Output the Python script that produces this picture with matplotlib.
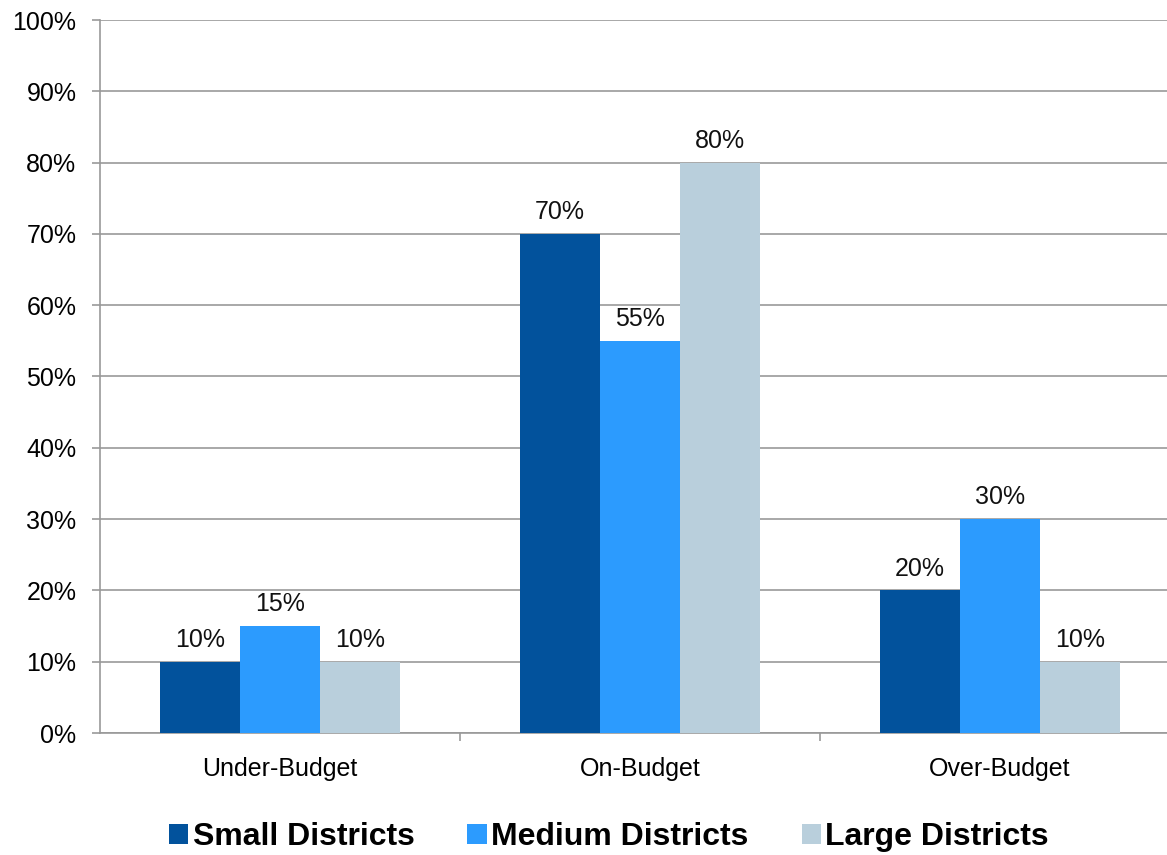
import matplotlib
matplotlib.use("Agg")
import matplotlib.pyplot as plt
import numpy as np

plt.rcParams['font.family'] = ['Liberation Sans', 'DejaVu Sans']

categories = ["Under-Budget", "On-Budget", "Over-Budget"]
series_names = ["Small Districts", "Medium Districts", "Large Districts"]
small = [10, 70, 20]
medium = [15, 55, 30]
large = [10, 80, 10]
colors = ["#02529C", "#2C9BFE", "#B9CFDC"]
y_ticks = [0, 10, 20, 30, 40, 50, 60, 70, 80, 90, 100]

W, H = 1167, 855
fig = plt.figure(figsize=(W / 100, H / 100), dpi=100)
ax = fig.add_axes([100 / W, 1 - 733 / H, 1080 / W, 713 / H])

x = np.arange(len(categories))
bw = 2 / 9
grid_c = "#999999"

for i, (vals, name, c) in enumerate(zip([small, medium, large], series_names, colors)):
    pos = x + (i - 1) * bw
    ax.bar(pos, vals, width=bw, color=c, label=name, zorder=3, linewidth=0)
    for xp, v in zip(pos, vals):
        ax.annotate(f"{v}%", (xp, v), xytext=(0, 7), textcoords="offset points",
                    ha="center", va="bottom", fontsize=18, color="#111111")

ax.set_xlim(-0.5, 2.5)
ax.set_ylim(0, 100)
ax.set_yticks(y_ticks)
ax.set_yticklabels([f"{t}%" for t in y_ticks], fontsize=18)
ax.yaxis.grid(True, color=grid_c, linewidth=1.2, zorder=0)
ax.set_axisbelow(True)

ax.set_xticks(x)
ax.set_xticklabels(categories, fontsize=18)
ax.tick_params(axis="x", length=0, pad=17)
ax.set_xticks([0.5, 1.5], minor=True)
ax.tick_params(axis="x", which="minor", length=6, width=1.2, color=grid_c)
ax.tick_params(axis="y", length=6, width=1.2, color=grid_c, pad=11)

for s in ["top", "right"]:
    ax.spines[s].set_visible(False)
for s in ["left", "bottom"]:
    ax.spines[s].set_color(grid_c)
    ax.spines[s].set_linewidth(1.2)

fig.legend(loc="center", bbox_to_anchor=(609 / W, 1 - 837 / H), ncol=3,
           frameon=False, prop={"size": 23, "weight": "bold"},
           handlelength=0.6, handleheight=0.6, handletextpad=0.15,
           columnspacing=1.65)

fig.savefig("out.png", dpi=100)
